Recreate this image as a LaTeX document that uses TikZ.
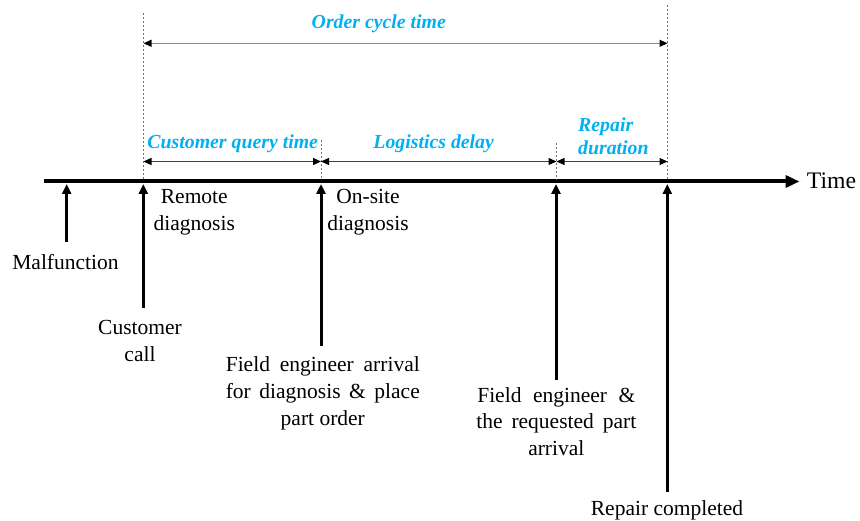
\documentclass[tikz,border=0pt]{standalone}
\usepackage{fontspec}
\setmainfont{Liberation Serif}
\usetikzlibrary{arrows.meta}
\definecolor{lblue}{RGB}{0,176,240}
\begin{document}
\begin{tikzpicture}[x=1pt,y=-1pt,
  lbl/.style={font=\fontsize{21.5}{26.8}\selectfont, align=center, inner sep=0pt},
  blbl/.style={font=\fontsize{19.8}{23.6}\selectfont\bfseries\itshape, text=lblue, inner sep=0pt},
  evarrow/.style={line width=3pt, -{Triangle[length=10pt,width=9pt]}},
  dimarrow/.style={line width=1.1pt, draw=black!75, {Triangle[length=8pt,width=7pt,color=black]}-{Triangle[length=8pt,width=7pt,color=black]}},
  guide/.style={line width=0.8pt, draw=black!55, dash pattern=on 2pt off 2pt},
  timeline/.style={line width=4pt, -{Triangle[length=14pt,width=12pt]}}
]
\useasboundingbox (0,0) rectangle (860,521);

% timeline
\coordinate (t0) at (44,181.5);
\coordinate (t1) at (799.5,181.5);
\draw[timeline] (t0) -- (t1);
\node[font=\fontsize{23.7}{28}\selectfont, inner sep=0pt, anchor=base west] (time) at (806.7,188.3) {Time};

% guide lines
\coordinate (g1t) at (143.5,13);  \coordinate (g1b) at (143.5,180);
\coordinate (g2t) at (321,140);   \coordinate (g2b) at (321,180);
\coordinate (g3t) at (556.5,143); \coordinate (g3b) at (556.5,180);
\coordinate (g4t) at (667.5,5);   \coordinate (g4b) at (667.5,180);
\draw[guide] (g1t) -- (g1b);
\draw[guide] (g2t) -- (g2b);
\draw[guide] (g3t) -- (g3b);
\draw[guide] (g4t) -- (g4b);

% dimension arrows
\coordinate (o1) at (143.5,43.3); \coordinate (o2) at (667.5,43.3);
\draw[dimarrow, draw=black!45] (o1) -- (o2);
\coordinate (c1) at (143.5,161.5); \coordinate (c2) at (321,161.5);
\coordinate (l2) at (556.5,161.5); \coordinate (r2) at (667.5,161.5);
\draw[dimarrow] (c1) -- (c2);
\draw[dimarrow] (c2) -- (l2);
\draw[dimarrow] (l2) -- (r2);

% blue labels
\node[blbl, anchor=base] (oct) at (378.8,28.3) {Order cycle time};
\node[blbl, anchor=base] (cqt) at (232.7,148.8) {Customer query time};
\node[blbl, anchor=base] (ld) at (433.7,148.3) {Logistics delay};
\node[blbl, anchor=north west, align=left] (rd) at (578,117.3) {Repair\\duration};

% event arrows
\coordinate (m1) at (66.7,242);  \coordinate (m2) at (66.7,184);
\coordinate (e1) at (143.3,308); \coordinate (e2) at (143.3,184);
\coordinate (f1) at (321,345.7); \coordinate (f2) at (321,184);
\coordinate (p1) at (556,380);   \coordinate (p2) at (556,184);
\coordinate (q1) at (667.3,491.7); \coordinate (q2) at (667.3,184);
\draw[evarrow] (m1) -- (m2);
\draw[evarrow] (e1) -- (e2);
\draw[evarrow] (f1) -- (f2);
\draw[evarrow] (p1) -- (p2);
\draw[evarrow] (q1) -- (q2);

% black labels
\node[lbl, anchor=north] (rem) at (194.3,189.5) {Remote\\diagnosis};
\node[lbl, anchor=north] (ons) at (368,189.3) {On-site\\diagnosis};
\node[lbl, anchor=base] (mal) at (65.5,269.3) {Malfunction};
\node[lbl, anchor=north] (cc) at (140,320.5) {Customer\\call};
\node[lbl, anchor=north] (fea) at (322.8,356.3) {\makebox[194pt][s]{Field engineer arrival}\\\makebox[194pt][s]{for diagnosis \& place}\\part order};
\node[lbl, anchor=north] (fep) at (556.3,387) {\makebox[158pt][s]{Field engineer \&}\\\makebox[160pt][s]{the requested part}\\arrival};
\node[lbl, anchor=base] (rc) at (667,515.5) {Repair completed};
\end{tikzpicture}
\end{document}
